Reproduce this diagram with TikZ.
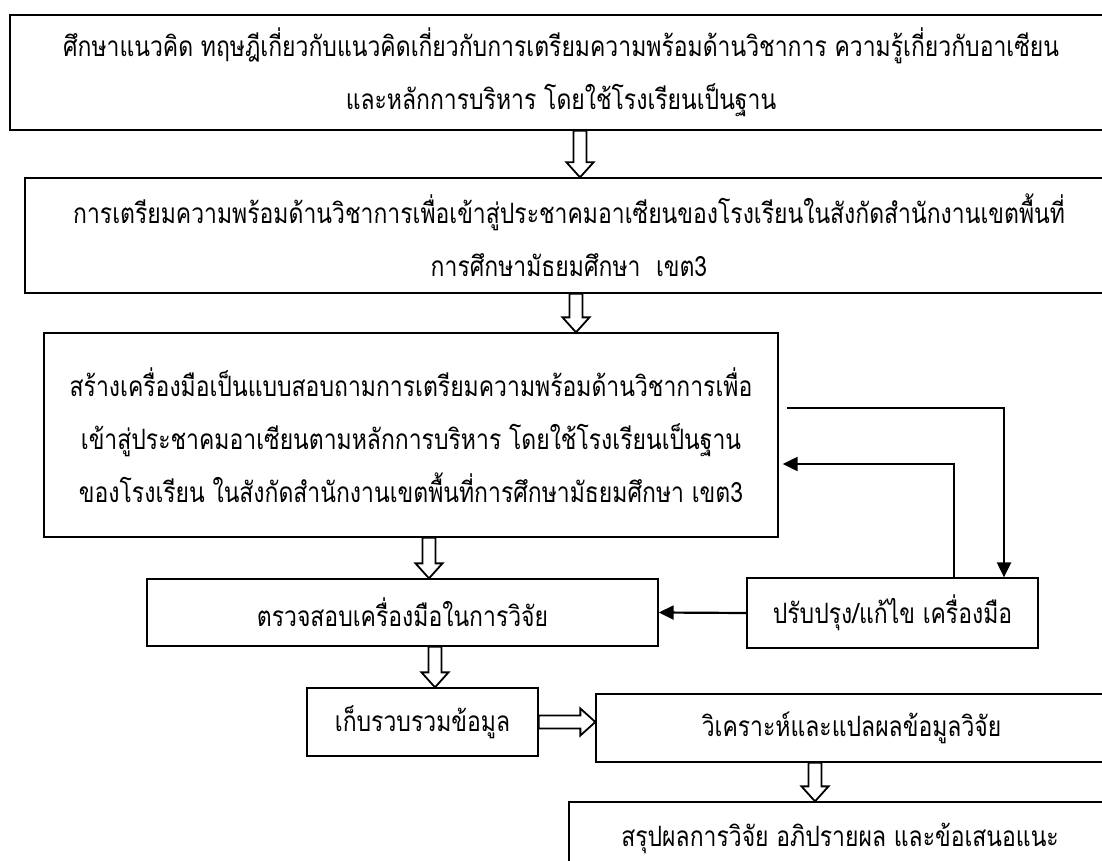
\documentclass[tikz,border=0pt]{standalone}
\usepackage{fontspec}
\usepackage{tikz}
\usetikzlibrary{calc,arrows.meta}
\newfontfamily\thaifont[Script=Thai,FakeStretch=0.82]{Loma}

\begin{document}
\begin{tikzpicture}[x=1pt, y=-1pt,
  box/.style={draw, line width=1.3pt, align=center, inner sep=0pt,
    font=\thaifont\fontsize{28}{53}\selectfont},
  hollow/.style={draw, line width=1.8pt, fill=white, line join=miter,
    to path={($(\tikztostart)!6.5pt!90:(\tikztotarget)$)
      -- ($(\tikztotarget)!15pt!(\tikztostart)!6.5pt!90:(\tikztotarget)$)
      -- ($(\tikztotarget)!15pt!(\tikztostart)!13.5pt!90:(\tikztotarget)$)
      -- (\tikztotarget)
      -- ($(\tikztotarget)!15pt!(\tikztostart)!13.5pt!-90:(\tikztotarget)$)
      -- ($(\tikztotarget)!15pt!(\tikztostart)!6.5pt!-90:(\tikztotarget)$)
      -- ($(\tikztostart)!6.5pt!-90:(\tikztotarget)$) -- cycle}},
  fb/.style={line width=2.2pt, -{Triangle[length=15pt, width=14pt]}}]
\useasboundingbox (0,0) rectangle (1102,861);
\clip (0,0) rectangle (1102,861);

% steps
\node[box, minimum width=1102pt, minimum height=115pt] (b1) at (561,72.5)
  {ศึกษาแนวคิด ทฤษฎีเกี่ยวกับแนวคิดเกี่ยวกับการเตรียมความพร้อมด้านวิชาการ ความรู้เกี่ยวกับอาเซียน\\
   และหลักการบริหาร โดยใช้โรงเรียนเป็นฐาน};
\node[box, minimum width=1088pt, minimum height=115pt] (b2) at (569,235.5)
  {การเตรียมความพร้อมด้านวิชาการเพื่อเข้าสู่ประชาคมอาเซียนของโรงเรียนในสังกัดสำนักงานเขตพื้นที่\\
   การศึกษามัธยมศึกษา~~เขต3};
\node[box, minimum width=734pt, minimum height=204pt] (b3) at (411,435)
  {สร้างเครื่องมือเป็นแบบสอบถามการเตรียมความพร้อมด้านวิชาการเพื่อ\\
   เข้าสู่ประชาคมอาเซียนตามหลักการบริหาร โดยใช้โรงเรียนเป็นฐาน\\
   ของโรงเรียน ในสังกัดสำนักงานเขตพื้นที่การศึกษามัธยมศึกษา เขต3};
\node[box, minimum width=511pt, minimum height=67pt] (b4) at (402.5,612.5) {ตรวจสอบเครื่องมือในการวิจัย};
\node[box, minimum width=291pt, minimum height=70pt] (b5) at (892.5,613) {ปรับปรุง/แก้ไข เครื่องมือ};
\node[box, minimum width=231pt, minimum height=68pt] (b6) at (422.5,722) {เก็บรวบรวมข้อมูล};
\node[box, minimum width=511pt, minimum height=68pt] (b7) at (851.5,728) {วิเคราะห์และแปลผลข้อมูลวิจัย};
\node[box, minimum width=542pt, minimum height=72pt] (b8) at (840,838) {สรุปผลการวิจัย อภิปรายผล และข้อเสนอแนะ};

% where the arrows run
\coordinate (a1) at (580,0);
\coordinate (a2) at (576,0);
\coordinate (a3) at (429,0);
\coordinate (a4) at (435,0);
\coordinate (a6) at (815,0);
\coordinate (fbA) at (1004,408);
\coordinate (fbB) at (954,464);

\draw[hollow] (b1.south -| a1) to (b2.north -| a1);
\draw[hollow] (b2.south -| a2) to (b3.north -| a2);
\draw[hollow] (b3.south -| a3) to (b4.north -| a3);
\draw[hollow] (b4.south -| a4) to (b6.north -| a4);
\draw[hollow] (b6.east |- b6.east) to (b7.west |- b6.east);
\draw[hollow] (b7.south -| a6) to (b8.north -| a6);

% revise loop
\draw[fb, shorten <=8pt] (b3.east |- fbA) -| (b5.north -| fbA);
\draw[fb, shorten >=4pt] (b5.north -| fbB) |- (b3.east |- fbB);
\draw[fb] (b5.west) -- (b4.east);
\end{tikzpicture}
\end{document}
